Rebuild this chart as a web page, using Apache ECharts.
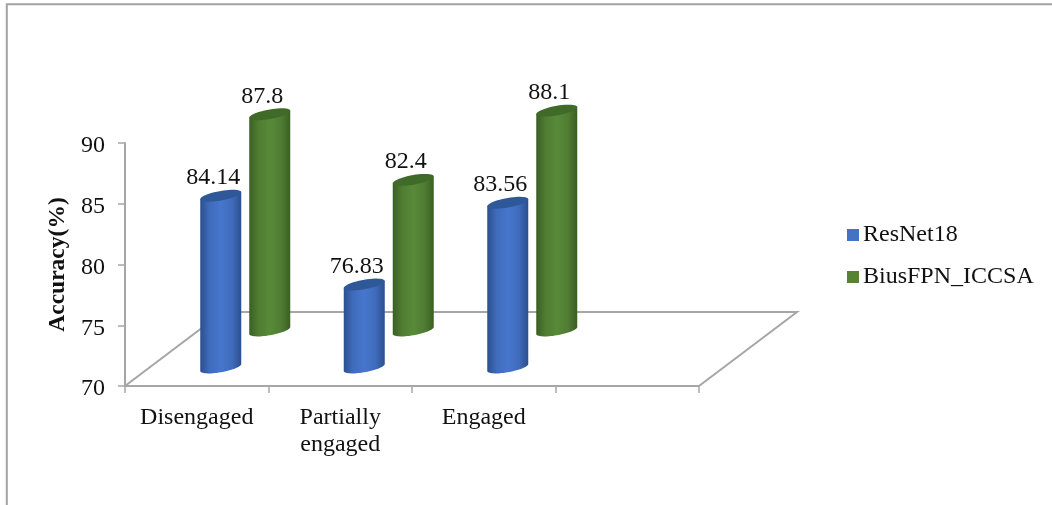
<!DOCTYPE html>
<html>
<head>
<meta charset="utf-8">
<style>html,body{margin:0;padding:0;background:#fff}#chart{width:1052px;height:505px}</style>
<script src="https://cdn.jsdelivr.net/npm/echarts@6/dist/echarts.min.js"></script>
</head>
<body>
<div id="chart"></div>
<script>
// Accuracy per engagement class for the two models
const categories = ['Disengaged', 'Partially\nengaged', 'Engaged', ''];
const resnet18 = [84.14, 76.83, 83.56];
const biusFpn = [87.8, 82.4, 88.1];

const FONT = '"Liberation Serif", "Times New Roman", serif';
const GREY = '#a6a6a6';
const TEXT = '#111';

// Perspective of the fake 3D floor, in pixels
const FLOOR_DX = 98, FLOOR_DY = -74;
const RX = 20.5, RY = 4.8, SKEW = 3.5;

// Cylinder rim: an ellipse sheared so the right side sits higher than the left
function rim(cx, cy, from, to, steps) {
  const pts = [];
  for (let i = 0; i <= steps; i++) {
    const t = from + (to - from) * i / steps;
    pts.push([cx + RX * Math.cos(t), cy + RY * Math.sin(t) - SKEW * Math.cos(t)]);
  }
  return pts;
}

function cylinderRenderer(offsetX, offsetY, palette) {
  return function (params, api) {
    const base = api.coord([api.value(0), 70]);
    const top = api.coord([api.value(0), api.value(1)]);
    const cx = base[0] + offsetX;
    const yb = base[1] + offsetY;
    const yt = top[1] + offsetY;
    const body = rim(cx, yb, Math.PI, 0, 32).concat([[cx + RX, yt - SKEW], [cx - RX, yt + SKEW]]);
    return {
      type: 'group',
      children: [
        {
          type: 'polygon',
          shape: { points: body },
          style: {
            fill: {
              type: 'linear', x: 0, y: 0, x2: 1, y2: 0,
              colorStops: [
                { offset: 0, color: palette.edge },
                { offset: 0.22, color: palette.mid },
                { offset: 0.5, color: palette.light },
                { offset: 0.78, color: palette.mid },
                { offset: 1, color: palette.edge }
              ]
            }
          }
        },
        {
          type: 'polygon',
          shape: { points: rim(cx, yt, 0, Math.PI * 2, 48) },
          style: { fill: palette.cap }
        },
        {
          type: 'text',
          style: {
            text: String(api.value(1)),
            x: cx - 7.5,
            y: yt - 18,
            align: 'center',
            verticalAlign: 'middle',
            font: '24px ' + FONT,
            fill: TEXT
          }
        }
      ]
    };
  };
}

// Floor outline behind the cylinders, anchored to the outer edges of the category band
function floorRenderer(params, api) {
  const band = api.size([1, 0])[0];
  const first = api.coord([0, 70]);
  const last = api.coord([categories.length - 1, 70]);
  const a = [first[0] - band / 2, first[1]];
  const b = [last[0] + band / 2, last[1]];
  return {
    type: 'polyline',
    shape: { points: [a, [a[0] + FLOOR_DX, a[1] + FLOOR_DY], [b[0] + FLOOR_DX, b[1] + FLOOR_DY], b] },
    style: { stroke: GREY, lineWidth: 2, fill: 'none' }
  };
}

const chart = echarts.init(document.getElementById('chart'), null, { renderer: 'canvas' });
chart.setOption({
  animation: false,
  backgroundColor: '#fff',
  textStyle: { fontFamily: FONT },
  grid: { left: 125, right: 353, top: 143, bottom: 119, containLabel: false },
  legend: {
    orient: 'vertical',
    left: 847,
    top: 223,
    padding: 0,
    itemWidth: 12,
    itemHeight: 12,
    itemGap: 18,
    icon: 'rect',
    data: ['ResNet18', 'BiusFPN_ICCSA'],
    textStyle: { fontFamily: FONT, fontSize: 24, color: TEXT, padding: [0, 0, 0, -1] }
  },
  xAxis: {
    type: 'category',
    data: categories,
    axisLine: { lineStyle: { color: GREY, width: 2 } },
    axisTick: { show: true, length: 7, lineStyle: { color: GREY, width: 1.5 } },
    axisLabel: { fontFamily: FONT, fontSize: 24, color: TEXT, margin: 18, lineHeight: 27, interval: 0 }
  },
  yAxis: {
    type: 'value',
    min: 70,
    max: 90,
    interval: 5,
    name: 'Accuracy(%)',
    nameLocation: 'middle',
    nameRotate: 90,
    nameGap: 50,
    nameTextStyle: { fontFamily: FONT, fontSize: 23.5, fontWeight: 'bold', color: TEXT },
    splitLine: { show: false },
    axisLine: { show: true, lineStyle: { color: GREY, width: 2 } },
    axisTick: { show: true, length: 7, lineStyle: { color: GREY, width: 1.5 } },
    axisLabel: {
      margin: 20,
      formatter: '{tick|{value}}',
      rich: { tick: { fontFamily: FONT, fontSize: 24, color: TEXT, padding: [6, 0, 0, 0] } }
    }
  },
  series: [
    { type: 'custom', name: 'floor', silent: true, z: 1, data: [[0, 70]], encode: { x: 0, y: 1 }, renderItem: floorRenderer },
    {
      type: 'custom',
      name: 'ResNet18',
      z: 3,
      itemStyle: { color: '#4472c4' },
      encode: { x: 0, y: 1 },
      data: resnet18.map((v, i) => [i, v]),
      renderItem: cylinderRenderer(24, -18.5, { edge: '#2c4f8e', mid: '#3f6bbb', light: '#4676cc', cap: '#2f5898' })
    },
    {
      type: 'custom',
      name: 'BiusFPN_ICCSA',
      z: 3,
      itemStyle: { color: '#558235' },
      encode: { x: 0, y: 1 },
      data: biusFpn.map((v, i) => [i, v]),
      renderItem: cylinderRenderer(73, -55.5, { edge: '#3a5f24', mid: '#4f7c32', light: '#588a38', cap: '#3f6a28' })
    }
  ],
  graphic: [
    {
      type: 'polyline',
      silent: true,
      shape: { points: [[6.8, 505], [6.8, 4.3], [1052, 4.3]] },
      style: { stroke: '#a3a3a3', lineWidth: 2, fill: 'none' }
    }
  ]
});
</script>
</body>
</html>
